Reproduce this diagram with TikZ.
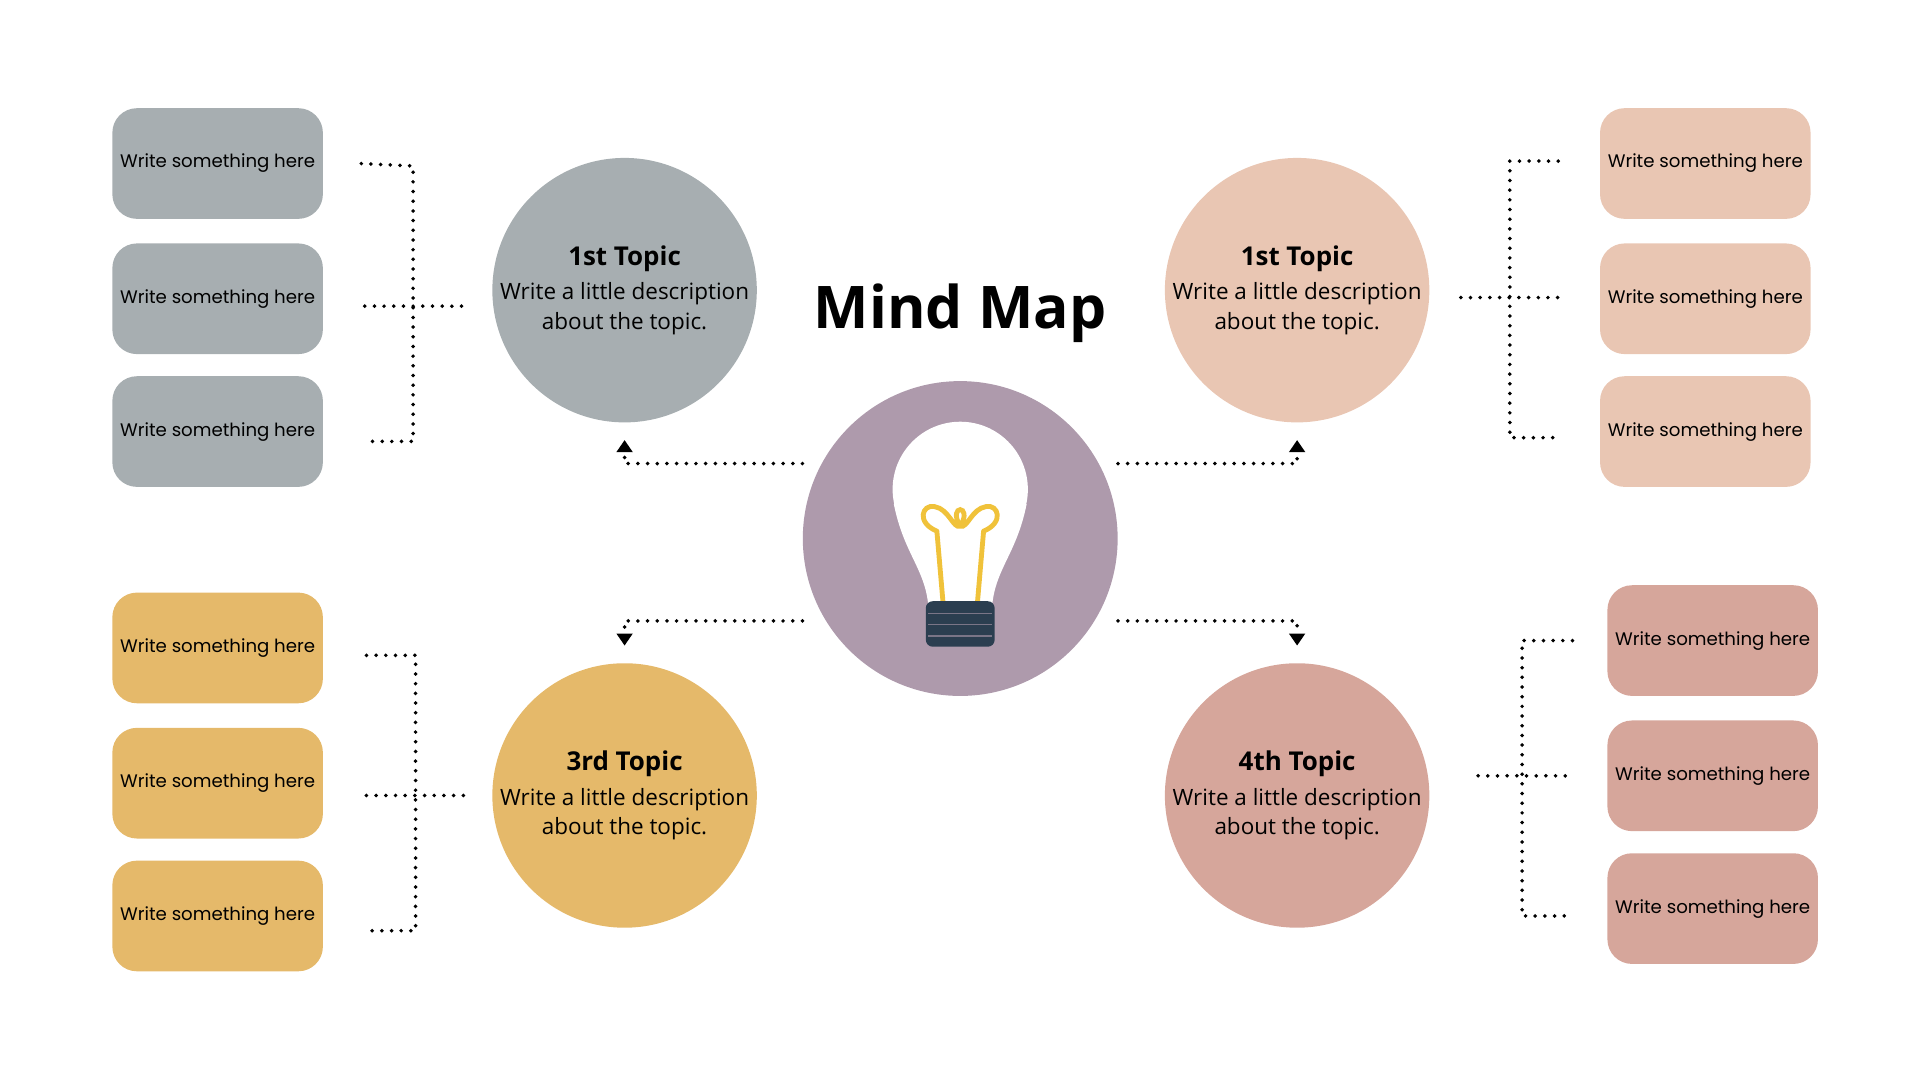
\documentclass[tikz,border=0pt]{standalone}
\usepackage{fontspec}
\setmainfont{Open Sans}
\newfontfamily\boxfont{Poppins}
\usetikzlibrary{arrows.meta}
\definecolor{bulbpurple}{HTML}{AE9AAC}
\definecolor{topicgray}{HTML}{A7AEB1}
\definecolor{topicpeach}{HTML}{E9C6B3}
\definecolor{topicyellow}{HTML}{E5B96A}
\definecolor{topicrose}{HTML}{D6A69B}
\definecolor{basenavy}{HTML}{2B3E50}
\definecolor{wireyellow}{HTML}{F0C23A}
\tikzset{
  topic/.style={circle,minimum size=4.8cm,inner sep=0pt,align=center,font=\fontsize{13}{17}\selectfont},
  leaf/.style={rounded corners=0.5cm,minimum width=4.28cm,minimum height=2.25cm,font=\boxfont\fontsize{10.5}{12}\selectfont},
  dots/.style={line width=2.3pt,line cap=round,dash pattern=on 0pt off 5.6pt},
  tip/.style={-{Triangle[length=7pt,width=9pt]}}
}
\begin{document}
\begin{tikzpicture}[x=0.025cm,y=-0.025cm]
\useasboundingbox (0,0) rectangle (1560,874);
% centre
\node[circle,fill=bulbpurple,minimum size=6.4cm] (hub) at (781,438) {};
\fill[white] (781,398) circle (55);
\fill[white] (727,410) .. controls (735,450) and (752,462) .. (755,492) -- (807,492)
  .. controls (810,462) and (827,450) .. (835,410) -- cycle;
\draw[wireyellow,line width=2.8pt,line cap=round]
  (767,490) -- (762,432) (795,490) -- (800,432)
  (762,432) .. controls (745,425) and (750,410) .. (760,412) .. controls (772,414) and (775,430) .. (781,428)
  .. controls (787,430) and (790,414) .. (802,412) .. controls (812,410) and (817,425) .. (800,432)
  (781,428) .. controls (770,410) and (792,410) .. (781,428);
\fill[basenavy,rounded corners=4pt] (753,489) rectangle (809,526);
\foreach \y in {499,508,517}
  \draw[bulbpurple!60!basenavy,line width=1pt] (755,\y) -- (807,\y);
\node[font=\bfseries\fontsize{34}{40}\selectfont] (title) at (781,255) {Mind Map};
% topics
\node[topic,fill=topicgray] (tl) at (508,236) {\textbf{\fontsize{15}{18}\selectfont 1st Topic}\\[3pt]Write a little description\\about the topic.};
\node[topic,fill=topicpeach] (tr) at (1055,236) {\textbf{\fontsize{15}{18}\selectfont 1st Topic}\\[3pt]Write a little description\\about the topic.};
\node[topic,fill=topicyellow] (bl) at (508,647) {\textbf{\fontsize{15}{18}\selectfont 3rd Topic}\\[3pt]Write a little description\\about the topic.};
\node[topic,fill=topicrose] (br) at (1055,647) {\textbf{\fontsize{15}{18}\selectfont 4th Topic}\\[3pt]Write a little description\\about the topic.};
% leaves
\foreach \n/\y in {1/133,2/243,3/351}{
  \node[leaf,fill=topicgray] (tl\n) at (177,\y) {Write something here};
  \node[leaf,fill=topicpeach] (tr\n) at (1387,\y) {Write something here};}
\foreach \n/\y in {1/527,2/637,3/745}
  \node[leaf,fill=topicyellow] (bl\n) at (177,\y) {Write something here};
\foreach \n/\y in {1/521,2/631,3/739}
  \node[leaf,fill=topicrose] (br\n) at (1393,\y) {Write something here};
% hub to topics
\draw[dots,tip] (hub.west |- 0,377) -| ([yshift=-10]tl.south);
\draw[dots,tip] (hub.east |- 0,377) -| ([yshift=-10]tr.south);
\draw[dots,tip] (hub.west |- 0,505) -| ([yshift=10]bl.north);
\draw[dots,tip] (hub.east |- 0,505) -| ([yshift=10]br.north);
% brackets
\draw[dots] ([xshift=22]tl1.east) -- (336,135) -- (336,359) -- ([xshift=24]tl3.east |- 0,359);
\draw[dots] ([xshift=24]tl2.east |- 0,249) -- ([xshift=-16]tl.west |- 0,249);
\draw[dots] ([xshift=25]bl1.east |- 0,533) -- (338,533) -- (338,757) -- ([xshift=25]bl3.east |- 0,757);
\draw[dots] ([xshift=25]bl2.east |- 0,647) -- ([xshift=-14]bl.west);
\draw[dots] ([xshift=-24]tr1.west |- 0,131) -- (1228,131) -- (1228,356) -- ([xshift=-22]tr3.west |- 0,356);
\draw[dots] ([xshift=18]tr.east |- 0,242) -- ([xshift=-24]tr2.west |- 0,242);
\draw[dots] ([xshift=-20]br1.west) -- (1238,521) -- (1238,745) -- ([xshift=-20]br3.west |- 0,745);
\draw[dots] ([xshift=28]br.east |- 0,631) -- ([xshift=-20]br2.west);
\end{tikzpicture}
\end{document}
